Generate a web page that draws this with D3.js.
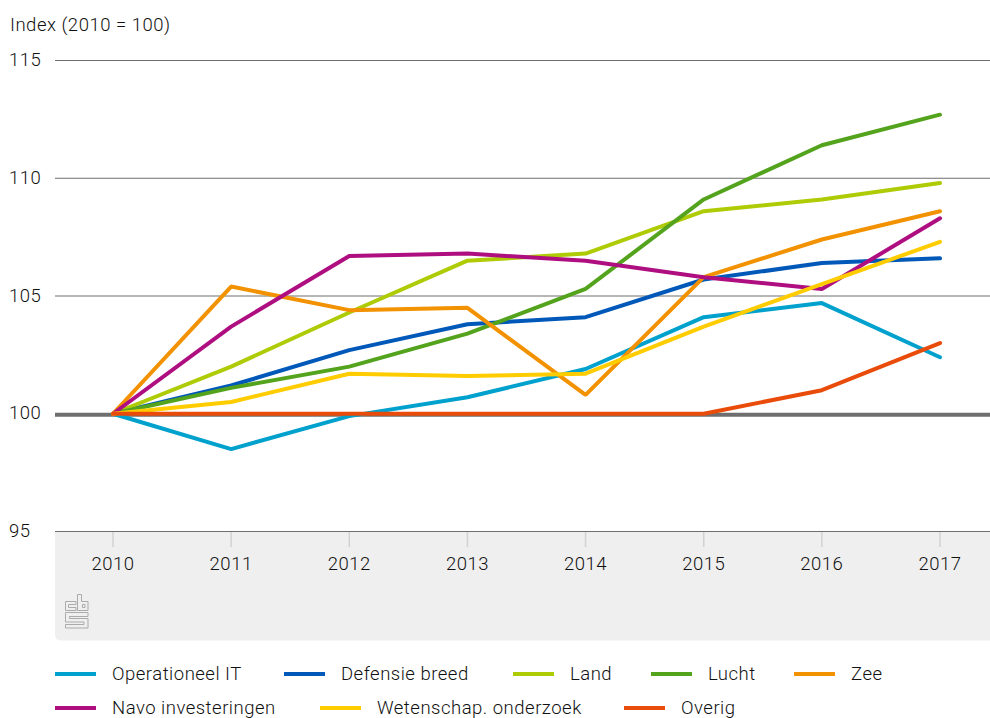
<!DOCTYPE html>
<html><head><meta charset="utf-8">
<script src="https://cdn.jsdelivr.net/npm/d3@7/dist/d3.min.js"></script>
<style>
html,body{margin:0;padding:0;background:#fff}
svg{display:block}
text{font-family:Roboto,sans-serif;font-size:18.5px;font-weight:300;fill:#111;letter-spacing:.5px}
</style></head><body><svg id="c" width="990" height="718"></svg>
<script>
const years=["2010","2011","2012","2013","2014","2015","2016","2017"];
const yTicks=[95,100,105,110,115];
const operationeelIT=[100,98.5,99.9,100.7,101.9,104.1,104.7,102.4];
const defensieBreed=[100,101.2,102.7,103.8,104.1,105.7,106.4,106.6];
const land=[100,102,104.3,106.5,106.8,108.6,109.1,109.8];
const lucht=[100,101.1,102,103.4,105.3,109.1,111.4,112.7];
const zee=[100,105.4,104.4,104.5,100.8,105.8,107.4,108.6];
const navo=[100,103.7,106.7,106.8,106.5,105.8,105.3,108.3];
const wetenschap=[100,100.5,101.7,101.6,101.7,103.7,105.5,107.3];
const overig=[100,100,100,100,100,100,101,103];
const seriesNames=["Operationeel IT","Defensie breed","Land","Lucht","Zee","Navo investeringen","Wetenschap. onderzoek","Overig"];
const seriesValues=[operationeelIT,defensieBreed,land,lucht,zee,navo,wetenschap,overig];
const seriesColors=["#00a1cd","#0058b8","#afcb05","#53a31d","#f39200","#af0e80","#ffcc00","#e94c0a"];
const legendX=[55,284,513,651,794,55,320,624], legendY=[674,674,674,674,674,708,708,708];

const svg=d3.select("#c");
const L=55,R=990,yTop=60.5,yBot=531.5;
const x=d3.scalePoint().domain(years).range([113,940]);
const y=d3.scaleLinear().domain([95,115]).range([yBot,yTop]);

svg.append("path").attr("fill","#efefef")
 .attr("d",`M${L},${yBot}H${R}V640.5H${L+6}Q${L},640.5 ${L},634.5Z`);

svg.append("g").selectAll("line").data(yTicks.filter(d=>d!==100)).join("line")
 .attr("x1",L).attr("x2",R).attr("y1",d=>y(d)).attr("y2",d=>y(d))
 .attr("stroke","#6e6e6e").attr("stroke-width",1);
svg.append("g").selectAll("line").data(years).join("line")
 .attr("x1",d=>x(d)).attr("x2",d=>x(d)).attr("y1",yBot+.5).attr("y2",547)
 .attr("stroke","#d2d2d2").attr("stroke-width",1.5);
svg.append("g").selectAll("text").data(yTicks).join("text")
 .attr("x",9).attr("y",d=>y(d)+5.5).text(d=>d);
svg.append("g").selectAll("text").data(years).join("text")
 .attr("x",d=>x(d)).attr("y",570).attr("text-anchor","middle").text(d=>d);
svg.append("text").attr("x",10).attr("y",31).text("Index (2010 = 100)");

svg.append("line").attr("x1",L).attr("x2",R).attr("y1",y(100)+1).attr("y2",y(100)+1)
 .attr("stroke","#6e6e6e").attr("stroke-width",4);

const line=d3.line().x((d,i)=>x(years[i])).y(d=>y(d));
svg.append("g").selectAll("path").data(seriesValues).join("path")
 .attr("d",line).attr("fill","none").attr("stroke",(d,i)=>seriesColors[i])
 .attr("stroke-width",4).attr("stroke-linecap","round").attr("stroke-linejoin","bevel");

// logo
const logo=svg.append("g").attr("transform","translate(65,594)").attr("fill","none").attr("stroke","#ababab").attr("stroke-width",1);
logo.append("path").attr("d","M11,7.5H.5V16.5H11V13.5H3.5V10.5H11ZM12.5,.5H16.5V7.5H23V16.5H12.5ZM17.5,10.5H20V13.5H17.5ZM.5,18.5H23V22.5H4.5V24.5H23V34H.5V30.5H19V28H.5Z");

const lg=svg.append("g").selectAll("g").data(seriesNames).join("g")
 .attr("transform",(d,i)=>`translate(${legendX[i]},${legendY[i]})`);
lg.append("line").attr("x1",0).attr("x2",41).attr("y1",0).attr("y2",0)
 .attr("stroke",(d,i)=>seriesColors[i]).attr("stroke-width",4);
lg.append("text").attr("x",57).attr("y",6).text(d=>d);
</script></body></html>
